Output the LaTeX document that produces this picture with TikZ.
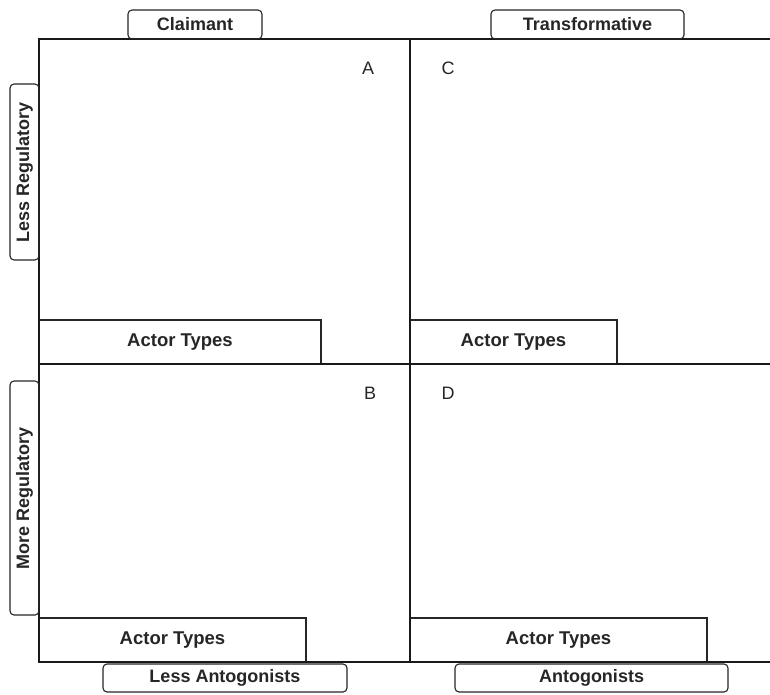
\documentclass[tikz,border=0pt]{standalone}
\usepackage{fontspec}
\setmainfont{Liberation Sans}
\begin{document}
\begin{tikzpicture}[x=1pt,y=-1pt,
  frame/.style={line width=2.3pt,black!90},
  actorbox/.style={draw,line width=1.2pt,black!85,minimum height=44pt,inner sep=0pt,font=\fontsize{18.5}{20}\selectfont\bfseries,text=black!85},
  labelbox/.style={draw,line width=1.1pt,black!85,rounded corners=4pt,inner sep=0pt,font=\fontsize{18}{20}\selectfont\bfseries,text=black!85},
  letter/.style={inner sep=0pt,font=\fontsize{18}{20}\selectfont,text=black!85}]
\useasboundingbox (0,0) rectangle (770,694);
\fill[white] (0,0) rectangle (770,694);
% actor type boxes
\node[actorbox,minimum width=282pt] (atA) at (180,342) {Actor Types};
\node[actorbox,minimum width=207pt] (atC) at (513.5,342) {Actor Types};
\node[actorbox,minimum width=267pt] (atB) at (172.5,640) {Actor Types};
\node[actorbox,minimum width=297pt] (atD) at (558.5,640) {Actor Types};
% frame
\coordinate (tl) at (39,39);
\coordinate (tm) at (410,39);
\coordinate (tr) at (770,39);
\coordinate (ml) at (39,364);
\coordinate (mr) at (770,364);
\coordinate (bl) at (39,662);
\coordinate (bm) at (410,662);
\coordinate (br) at (770,662);
\draw[frame] (tr) -- (tl) -- (bl) -- (br);
\draw[frame] (tm) -- (bm);
\draw[frame] (ml) -- (mr);
% label boxes
\node[labelbox,minimum width=134pt,minimum height=29pt] (claim) at (195,24.5) {Claimant};
\node[labelbox,minimum width=193pt,minimum height=29pt] (trans) at (587.5,24.5) {Transformative};
\node[labelbox,minimum width=244pt,minimum height=28pt] (lant) at (225,678) {Less Antogonists};
\node[labelbox,minimum width=273pt,minimum height=28pt] (ant) at (591.5,678) {Antogonists};
\node[labelbox,minimum width=176pt,minimum height=29pt,rotate=90] (lreg) at (24.5,172) {Less Regulatory};
\node[labelbox,minimum width=234pt,minimum height=29pt,rotate=90] (mreg) at (24.5,498) {More Regulatory};
% quadrant letters
\node[letter] (A) at (368,68) {A};
\node[letter] (C) at (448,68) {C};
\node[letter] (B) at (370,393) {B};
\node[letter] (D) at (448,393) {D};
\end{tikzpicture}
\end{document}
